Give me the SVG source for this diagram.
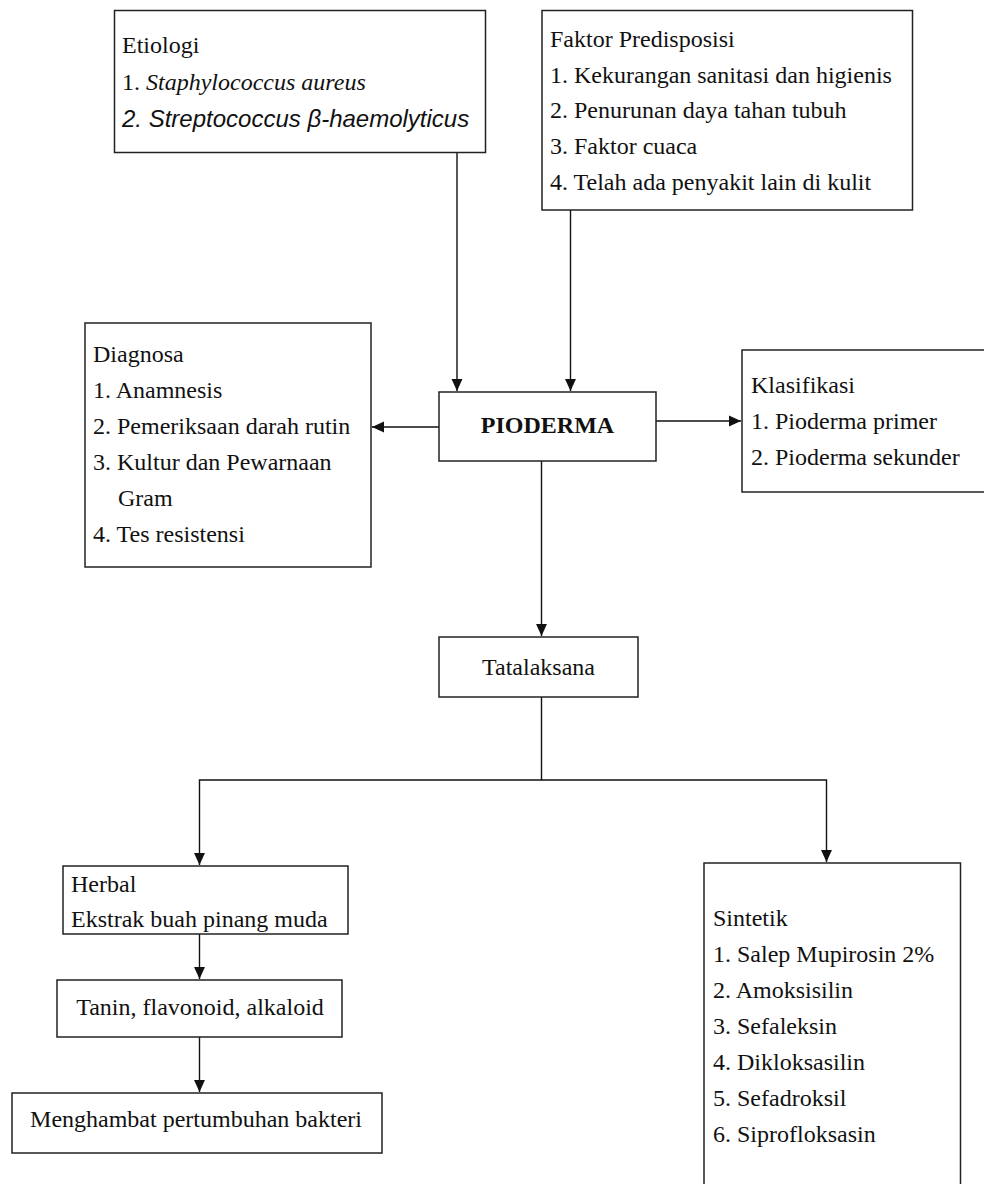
<svg xmlns="http://www.w3.org/2000/svg" width="984" height="1184" viewBox="0 0 984 1184">
<style>
.box{fill:#fff;stroke:#222;stroke-width:1.5}
.t{font-family:"Liberation Serif","Times New Roman",serif;font-size:24px;fill:#111}
.s{font-family:"Liberation Sans",Arial,sans-serif;font-size:24px;font-style:italic;fill:#111}
.c{text-anchor:middle}
.b{font-weight:bold}
.i{font-style:italic}
.ln{fill:none;stroke:#111;stroke-width:1.4}
</style>
<defs>
<marker id="arr" markerUnits="userSpaceOnUse" markerWidth="12" markerHeight="12" viewBox="0 0 11 10" refX="11" refY="5" orient="auto">
<path d="M0,0 L11,5 L0,10 z" fill="#111"/>
</marker>
</defs>
<rect width="984" height="1184" fill="#fff"/>
<g id="connectors">
<line class="ln" x1="457" y1="152" x2="457" y2="391" marker-end="url(#arr)"/>
<line class="ln" x1="570.5" y1="210" x2="570.5" y2="391" marker-end="url(#arr)"/>
<line class="ln" x1="439" y1="427" x2="372" y2="427" marker-end="url(#arr)"/>
<line class="ln" x1="656" y1="421" x2="741" y2="421" marker-end="url(#arr)"/>
<line class="ln" x1="541.5" y1="461" x2="541.5" y2="636" marker-end="url(#arr)"/>
<polyline class="ln" points="541.5,697 541.5,780 199.5,780 199.5,865" marker-end="url(#arr)"/>
<polyline class="ln" points="541.5,780 826.5,780 826.5,862" marker-end="url(#arr)"/>
<line class="ln" x1="199.5" y1="934" x2="199.5" y2="979" marker-end="url(#arr)"/>
<line class="ln" x1="199.5" y1="1037" x2="199.5" y2="1092" marker-end="url(#arr)"/>
</g>
<g id="etiologi">
<rect class="box" x="114.5" y="10.5" width="371" height="142"/>
<text class="t" x="122" y="53">Etiologi</text>
<text class="t" x="122" y="90">1. <tspan class="i">Staphylococcus aureus</tspan></text>
<text class="s" x="122" y="127">2. Streptococcus β-haemolyticus</text>
</g>
<g id="faktor">
<rect class="box" x="542" y="10.5" width="370.5" height="199.5"/>
<text class="t" x="550" y="47">Faktor Predisposisi</text>
<text class="t" x="550" y="83">1. Kekurangan sanitasi dan higienis</text>
<text class="t" x="550" y="118">2. Penurunan daya tahan tubuh</text>
<text class="t" x="550" y="154">3. Faktor cuaca</text>
<text class="t" x="550" y="190">4. Telah ada penyakit lain di kulit</text>
</g>
<g id="diagnosa">
<rect class="box" x="85" y="323" width="286" height="244"/>
<text class="t" x="93" y="362">Diagnosa</text>
<text class="t" x="93" y="398">1. Anamnesis</text>
<text class="t" x="93" y="434">2. Pemeriksaan darah rutin</text>
<text class="t" x="93" y="470">3. Kultur dan Pewarnaan</text>
<text class="t" x="118" y="506">Gram</text>
<text class="t" x="93" y="542">4. Tes resistensi</text>
</g>
<g id="pioderma">
<rect class="box" x="439" y="392" width="217" height="69"/>
<text class="t c b" x="547.5" y="433">PIODERMA</text>
</g>
<g id="klasifikasi">
<rect class="box" x="742" y="350" width="260" height="142"/>
<text class="t" x="751" y="393">Klasifikasi</text>
<text class="t" x="751" y="429">1. Pioderma primer</text>
<text class="t" x="751" y="465">2. Pioderma sekunder</text>
</g>
<g id="tatalaksana">
<rect class="box" x="439" y="637" width="199" height="60"/>
<text class="t c" x="538.5" y="675">Tatalaksana</text>
</g>
<g id="herbal">
<rect class="box" x="63" y="866" width="285" height="68"/>
<text class="t" x="71" y="892">Herbal</text>
<text class="t" x="71" y="927">Ekstrak buah pinang muda</text>
</g>
<g id="tanin">
<rect class="box" x="57" y="980" width="285" height="57"/>
<text class="t c" x="200" y="1015">Tanin, flavonoid, alkaloid</text>
</g>
<g id="menghambat">
<rect class="box" x="12" y="1093" width="370" height="60"/>
<text class="t c" x="196" y="1127">Menghambat pertumbuhan bakteri</text>
</g>
<g id="sintetik">
<rect class="box" x="704" y="863" width="256.5" height="330"/>
<text class="t" x="713" y="926">Sintetik</text>
<text class="t" x="713" y="962">1. Salep Mupirosin 2%</text>
<text class="t" x="713" y="998">2. Amoksisilin</text>
<text class="t" x="713" y="1034">3. Sefaleksin</text>
<text class="t" x="713" y="1070">4. Dikloksasilin</text>
<text class="t" x="713" y="1106">5. Sefadroksil</text>
<text class="t" x="713" y="1142">6. Siprofloksasin</text>
</g>
</svg>
